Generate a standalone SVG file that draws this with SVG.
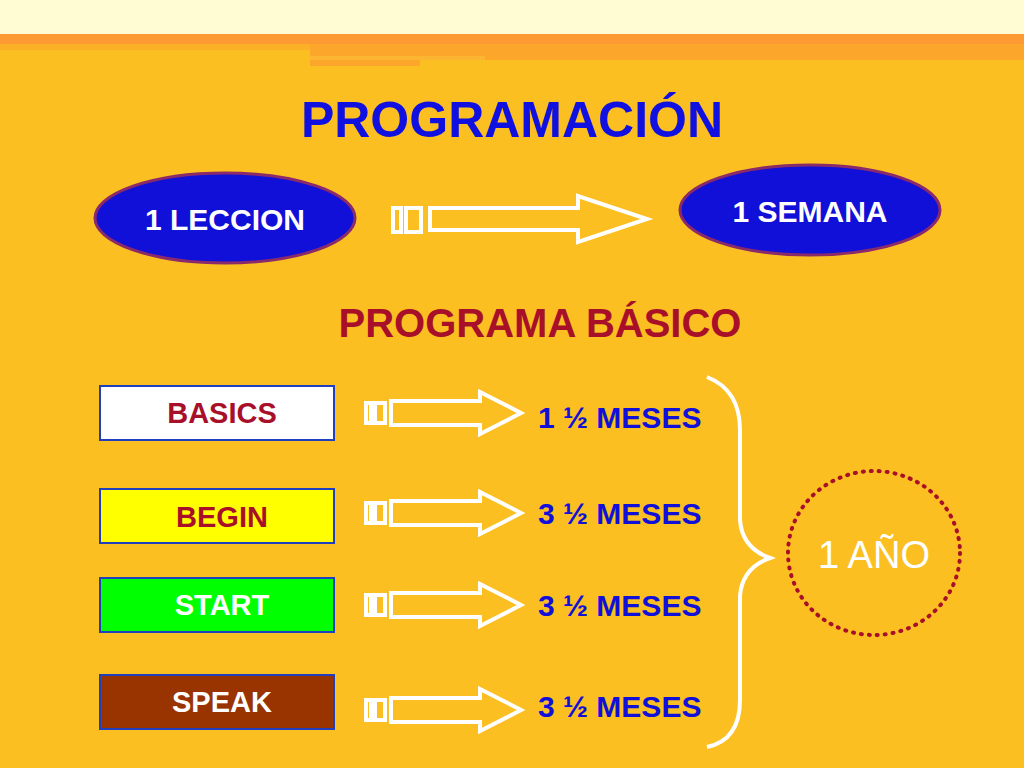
<svg xmlns="http://www.w3.org/2000/svg" width="1024" height="768" viewBox="0 0 1024 768">
<style>
.t{font-family:"Liberation Sans",Arial,sans-serif;font-weight:bold}
.ar{fill:none;stroke:#fff;stroke-width:4}
.box{stroke:#1f3fbf;stroke-width:2}
</style>
<rect width="1024" height="768" fill="#fbbf21"/>
<rect width="1024" height="34" fill="#fffbd3"/>
<rect y="34" width="1024" height="10" fill="#fd9a33"/>
<rect x="0" y="44" width="310" height="6" fill="#fbb025"/>
<rect x="310" y="44" width="714" height="22" fill="#fca72b"/>
<rect x="310" y="56" width="175" height="4" fill="#fbb530"/>
<rect x="420" y="60" width="604" height="8" fill="#fbbf21"/>
<text x="512" y="137" class="t" font-size="50" fill="#1010e0" text-anchor="middle">PROGRAMACIÓN</text>
<g id="leccion"><ellipse cx="225" cy="218" rx="130" ry="45" fill="#1010d8" stroke="#8a2a6a" stroke-width="3"/>
<text x="225" y="230" class="t" font-size="30" fill="#fff" text-anchor="middle">1 LECCION</text></g>
<g id="semana"><ellipse cx="810" cy="210" rx="130" ry="45" fill="#1010d8" stroke="#8a2a6a" stroke-width="3"/>
<text x="810" y="222" class="t" font-size="30" fill="#fff" text-anchor="middle">1 SEMANA</text></g>
<g id="connectors">
<g class="ar"><rect x="393" y="208" width="8" height="24"/><rect x="406" y="208" width="15" height="24"/>
<path d="M430 208H578V196L647 219 578 242V230H430Z"/></g>
<g class="ar"><rect x="366" y="403" width="5" height="20"/><rect x="375" y="403" width="10" height="20"/>
<path d="M391 401H480V392L521 413 480 434V425H391Z"/></g>
<g class="ar"><rect x="366" y="503" width="5" height="20"/><rect x="375" y="503" width="10" height="20"/>
<path d="M391 501H480V492L521 513 480 534V525H391Z"/></g>
<g class="ar"><rect x="366" y="595" width="5" height="20"/><rect x="375" y="595" width="10" height="20"/>
<path d="M391 593H480V584L521 605 480 626V617H391Z"/></g>
<g class="ar"><rect x="366" y="700" width="5" height="20"/><rect x="375" y="700" width="10" height="20"/>
<path d="M391 698H480V689L521 710 480 731V722H391Z"/></g>
<path d="M707 377Q740 390 740 430V520Q742 548 770 558Q742 568 740 596V700Q740 740 707 747" fill="none" stroke="#fff" stroke-width="4"/>
</g>
<text x="540" y="337" class="t" font-size="40" fill="#a8102a" text-anchor="middle">PROGRAMA BÁSICO</text>
<g id="basics"><rect x="100" y="386" width="234" height="54" fill="#fff" class="box"/><text x="222" y="423" class="t" font-size="29" fill="#a8102a" text-anchor="middle">BASICS</text></g>
<g id="begin"><rect x="100" y="489" width="234" height="54" fill="#ffff00" class="box"/><text x="222" y="527" class="t" font-size="29" fill="#a8102a" text-anchor="middle">BEGIN</text></g>
<g id="start"><rect x="100" y="578" width="234" height="54" fill="#00ff00" class="box"/><text x="222" y="615" class="t" font-size="29" fill="#fff" text-anchor="middle">START</text></g>
<g id="speak"><rect x="100" y="675" width="234" height="54" fill="#993300" class="box"/><text x="222" y="712" class="t" font-size="29" fill="#fff" text-anchor="middle">SPEAK</text></g>
<g class="t" font-size="30" fill="#1010d8">
<text x="538" y="428">1 ½ MESES</text><text x="538" y="524">3 ½ MESES</text>
<text x="538" y="616">3 ½ MESES</text><text x="538" y="717">3 ½ MESES</text></g>
<g id="anio"><ellipse cx="874" cy="553" rx="86" ry="82" fill="none" stroke="#a8102a" stroke-width="4" stroke-dasharray="1 7" stroke-linecap="round"/>
<text x="874" y="568" font-family="Liberation Sans,Arial,sans-serif" font-size="38" fill="#fff" text-anchor="middle">1 AÑO</text></g>
</svg>
